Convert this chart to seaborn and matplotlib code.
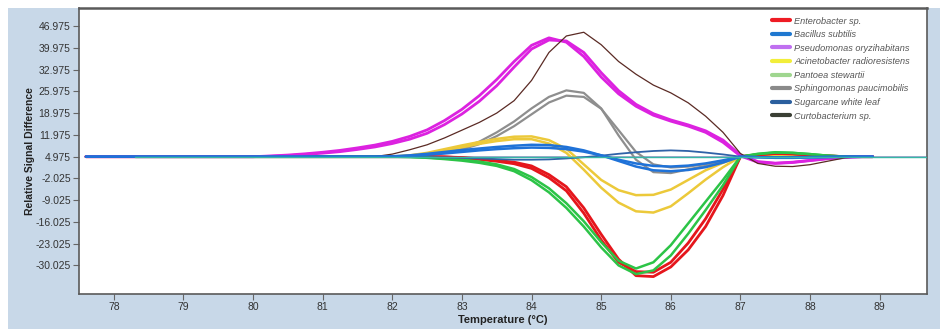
import matplotlib
matplotlib.use("Agg")
import matplotlib.pyplot as plt
import numpy as np
import pandas as pd
import seaborn as sns
from matplotlib.lines import Line2D
from matplotlib.patches import Rectangle

# Melt-curve temperature grid (deg C)
temps = [77.6, 78.5, 79.5, 80.0, 80.25, 80.5, 80.75, 81.0, 81.25, 81.5,
         81.75, 82.0, 82.25, 82.5, 82.75, 83.0, 83.25, 83.5, 83.75, 84.0,
         84.25, 84.5, 84.75, 85.0, 85.25, 85.5, 85.75, 86.0, 86.25, 86.5,
         86.75, 87.0, 87.25, 87.5, 87.75, 88.0, 88.25, 88.5, 88.75, 88.9]

B = 4.975

enterobacter_a = [B, B, B, B, B, B, B, B, B, B,
                  B, B, B, 4.975, 4.9, 4.7, 4.3, 3.8, 3.2, 2.0,
                  -0.8, -4.7, -11.5, -20.0, -28.0, -33.3, -33.6, -30.5, -25.0, -17.5,
                  -7.5, 4.975, 5.6, 6.0, 5.9, 5.5, 5.2, 5.0, B, B]
enterobacter_b = [B, B, B, B, B, B, B, B, B, B,
                  B, B, B, 4.975, 4.9, 4.6, 4.1, 3.5, 2.7, 1.2,
                  -1.8, -6.0, -13.2, -21.8, -29.0, -32.0, -32.2, -29.0, -22.8, -15.0,
                  -5.5, 4.975, 5.6, 6.0, 5.9, 5.5, 5.2, 5.0, B, B]

bacillus_a = [B, B, B, B, B, B, B, B, B, B,
              4.975, 5.1, 5.4, 5.9, 6.5, 7.1, 7.6, 8.1, 8.5, 8.8,
              8.7, 8.1, 7.0, 5.4, 3.6, 1.8, 0.6, 0.3, 0.7, 1.6,
              3.1, 4.975, 4.8, 4.6, 4.6, 4.7, 4.85, 4.975, B, B]
bacillus_b = [B, B, B, B, B, B, B, B, B, B,
              4.975, 5.0, 5.2, 5.6, 6.0, 6.5, 7.0, 7.4, 7.7, 7.9,
              7.8, 7.4, 6.6, 5.4, 4.0, 2.8, 2.0, 1.8, 2.1, 2.8,
              3.8, 4.975, 4.8, 4.7, 4.7, 4.8, 4.9, 4.975, B, B]

pseudomonas_a = [B, B, B, 4.975, 5.1, 5.3, 5.7, 6.1, 6.6, 7.3,
                 8.1, 9.2, 10.6, 12.5, 15.3, 18.7, 22.8, 27.8, 33.8, 39.6,
                 42.5, 42.2, 38.5, 32.0, 26.2, 21.8, 18.8, 16.8, 15.2, 13.3,
                 10.3, 5.5, 3.4, 2.9, 3.2, 3.8, 4.4, 4.8, B, B]
pseudomonas_b = [B, B, B, 4.975, 5.2, 5.5, 5.9, 6.4, 7.0, 7.8,
                 8.7, 9.9, 11.5, 13.6, 16.6, 20.2, 24.6, 29.8, 35.6, 40.8,
                 43.2, 41.8, 37.2, 30.6, 25.2, 21.2, 18.3, 16.4, 14.8, 12.8,
                 9.6, 5.2, 3.2, 2.8, 3.1, 3.7, 4.3, 4.7, B, B]

acinetobacter_a = [B, B, B, B, B, B, B, B, B, B,
                   4.975, 5.0, 5.4, 6.2, 7.4, 8.6, 9.7, 10.7, 11.4, 11.5,
                   10.3, 7.5, 2.5, -2.5, -5.8, -7.4, -7.3, -5.6, -2.5, 0.6,
                   3.0, 4.975, 5.2, 5.1, 5.0, B, B, B, B, B]
acinetobacter_b = [B, B, B, B, B, B, B, B, B, B,
                   4.975, 5.0, 5.3, 5.9, 6.9, 8.0, 9.1, 10.0, 10.6, 10.6,
                   9.2, 6.2, 0.8, -5.0, -9.8, -12.6, -13.0, -11.0, -6.8, -2.4,
                   1.6, 4.975, 5.2, 5.1, 5.0, B, B, B, B, B]

pantoea_a = [B, B, B, B, B, B, B, B, B, B,
             4.975, 4.975, 4.9, 4.7, 4.4, 4.0, 3.4, 2.5, 1.0, -1.6,
             -5.2, -10.0, -15.8, -22.5, -28.5, -31.0, -29.0, -23.5, -16.5, -9.5,
             -2.5, 4.975, 5.8, 6.3, 6.2, 5.8, 5.3, 5.0, B, B]
pantoea_b = [B, B, B, B, B, B, B, B, B, B,
             4.975, 4.975, 4.9, 4.6, 4.2, 3.7, 3.0, 2.0, 0.3, -2.6,
             -6.5, -11.5, -17.5, -24.2, -30.0, -32.8, -31.6, -26.8, -19.8, -12.2,
             -4.2, 4.975, 5.9, 6.4, 6.2, 5.8, 5.3, 5.0, B, B]

sphingomonas_a = [B, B, B, B, B, B, B, B, B, B,
                  4.975, 4.975, 5.0, 5.5, 6.5, 7.8, 9.8, 12.8, 16.3, 20.5,
                  24.2, 26.3, 25.5, 20.5, 11.8, 4.0, 0.0, -0.3, 0.9, 2.0,
                  3.2, 4.9, 5.5, 5.5, 5.4, 5.3, 5.2, 5.1, 5.0, B]
sphingomonas_b = [B, B, B, B, B, B, B, B, B, B,
                  4.975, 4.975, 5.0, 5.4, 6.2, 7.3, 9.0, 11.6, 14.8, 18.6,
                  22.4, 24.6, 24.2, 20.4, 13.5, 6.5, 2.5, 1.5, 1.8, 2.6,
                  3.6, 4.9, 5.4, 5.5, 5.4, 5.3, 5.2, 5.1, 5.0, B]

sugarcane_wl = [B, B, B, B, B, B, B, B, B, B,
                B, B, 4.9, 4.8, 4.7, 4.6, 4.4, 4.2, 4.0, 4.0,
                4.1, 4.4, 4.8, 5.3, 5.9, 6.4, 6.8, 7.0, 6.8, 6.3,
                5.7, 4.975, 4.9, 4.9, 4.9, B, B, B, B, B]

curtobacterium = [B, B, B, B, B, B, B, B, B, B,
                  5.0, 5.8, 7.2, 8.8, 11.0, 13.5, 16.0, 19.0, 23.0, 29.5,
                  38.5, 43.8, 45.0, 41.0, 35.6, 31.5, 28.0, 25.5, 22.3, 18.0,
                  12.8, 6.0, 2.8, 1.9, 1.8, 2.4, 3.5, 4.6, B, B]

# Flat reference trace across the whole scan
control_temps = [78.3, 89.68]
control_vals = [B, B]

species = ["Enterobacter sp.", "Bacillus subtilis", "Pseudomonas oryzihabitans",
           "Acinetobacter radioresistens", "Pantoea stewartii",
           "Sphingomonas paucimobilis", "Sugarcane white leaf", "Curtobacterium sp."]
replicates = {
    "Enterobacter sp.": [enterobacter_a, enterobacter_b],
    "Bacillus subtilis": [bacillus_a, bacillus_b],
    "Pseudomonas oryzihabitans": [pseudomonas_a, pseudomonas_b],
    "Acinetobacter radioresistens": [acinetobacter_a, acinetobacter_b],
    "Pantoea stewartii": [pantoea_a, pantoea_b],
    "Sphingomonas paucimobilis": [sphingomonas_a, sphingomonas_b],
    "Sugarcane white leaf": [sugarcane_wl],
    "Curtobacterium sp.": [curtobacterium],
}
line_colors = {
    "Enterobacter sp.": "#e5161c",
    "Bacillus subtilis": "#1f72d8",
    "Pseudomonas oryzihabitans": "#dc22e0",
    "Acinetobacter radioresistens": "#ecc93a",
    "Pantoea stewartii": "#2cc447",
    "Sphingomonas paucimobilis": "#8e8e8e",
    "Sugarcane white leaf": "#2f62a8",
    "Curtobacterium sp.": "#5a2a24",
}
legend_colors = {
    "Enterobacter sp.": "#ee1c24",
    "Bacillus subtilis": "#1f78d0",
    "Pseudomonas oryzihabitans": "#c070f0",
    "Acinetobacter radioresistens": "#f2ee3a",
    "Pantoea stewartii": "#9fd68f",
    "Sphingomonas paucimobilis": "#8a8a8a",
    "Sugarcane white leaf": "#2b5f9e",
    "Curtobacterium sp.": "#3a3f34",
}
line_widths = {
    "Enterobacter sp.": 2.0,
    "Bacillus subtilis": 1.8,
    "Pseudomonas oryzihabitans": 2.0,
    "Acinetobacter radioresistens": 1.8,
    "Pantoea stewartii": 1.8,
    "Sphingomonas paucimobilis": 1.6,
    "Sugarcane white leaf": 1.3,
    "Curtobacterium sp.": 0.9,
}
draw_order = ["Sphingomonas paucimobilis", "Acinetobacter radioresistens",
              "Enterobacter sp.", "Pantoea stewartii", "Pseudomonas oryzihabitans",
              "Curtobacterium sp.", "Sugarcane white leaf", "Bacillus subtilis"]

ytick_vals = [46.975, 39.975, 32.975, 25.975, 18.975, 11.975, 4.975,
              -2.025, -9.025, -16.025, -23.025, -30.025]
ytick_labels = ["46.975", "39.975", "32.975", "25.975", "18.975", "11.975", "4.975",
                "-2.025", "-9.025", "-16.025", "-23.025", "-30.025"]
xtick_vals = [78, 79, 80, 81, 82, 83, 84, 85, 86, 87, 88, 89]

rows = []
for sp in species:
    for r, vals in enumerate(replicates[sp]):
        for t, v in zip(temps, vals):
            rows.append({"Species": sp, "Replicate": r, "Temperature": t, "Signal": v})
df = pd.DataFrame(rows)
ctrl = pd.DataFrame({"Temperature": control_temps, "Signal": control_vals})

sns.set_theme(style="white")
plt.rcParams["font.family"] = ["Liberation Sans", "DejaVu Sans"]

W, H = 940, 329
fig = plt.figure(figsize=(W / 100, H / 100), dpi=100)
fig.patch.set_facecolor("white")
fig.add_artist(Rectangle((8 / W, 0), 1 - 8 / W, 1 - 8 / H, transform=fig.transFigure,
                         facecolor="#c8d8e8", edgecolor="none", zorder=0))

ax = fig.add_axes([79 / W, 1 - 294 / H, (927 - 79) / W, (294 - 8) / H])
ax.set_facecolor("white")

sns.lineplot(data=ctrl, x="Temperature", y="Signal", color="#9a9ac8", lw=1.2,
             ax=ax, legend=False, zorder=1)
for sp in draw_order:
    sub = df[df["Species"] == sp]
    sns.lineplot(data=sub, x="Temperature", y="Signal", units="Replicate",
                 estimator=None, sort=False, color=line_colors[sp],
                 lw=line_widths[sp], ax=ax, legend=False, zorder=2)
sns.lineplot(data=ctrl, x="Temperature", y="Signal", color="#36b7a6", lw=1.0,
             ax=ax, legend=False, zorder=3)

ax.set_xlim(77.5, 89.68)
ax.set_ylim(-39.2, 52.8)
ax.set_xticks(xtick_vals)
ax.set_xticklabels([str(v) for v in xtick_vals])
ax.set_yticks(ytick_vals)
ax.set_yticklabels(ytick_labels)
ax.tick_params(bottom=True, left=True, direction="out", length=4, width=0.8,
               color="#666666", labelsize=7.5, labelcolor="#333333", pad=2)
for side, sp in ax.spines.items():
    sp.set_color("#5a5a5a")
    sp.set_linewidth(1.2)
ax.spines["top"].set_linewidth(1.8)

ax.set_xlabel("Temperature (°C)", fontweight="bold", fontsize=8, color="#222222", labelpad=2)
ax.set_ylabel("Relative Signal Difference", fontweight="bold", fontsize=7.5, color="#222222")
ax.yaxis.set_label_coords(-0.052, 0.5)

handles = [Line2D([0], [0], color=legend_colors[s], lw=3) for s in species]
leg = ax.legend(handles, species, loc="upper left", bbox_to_anchor=(0.813, 0.983),
                frameon=False, prop={"style": "italic", "size": 6.6},
                handlelength=1.9, handletextpad=0.5, labelspacing=0.5, borderaxespad=0)
for txt in leg.get_texts():
    txt.set_color("#555555")

fig.savefig("out.png", dpi=100)
